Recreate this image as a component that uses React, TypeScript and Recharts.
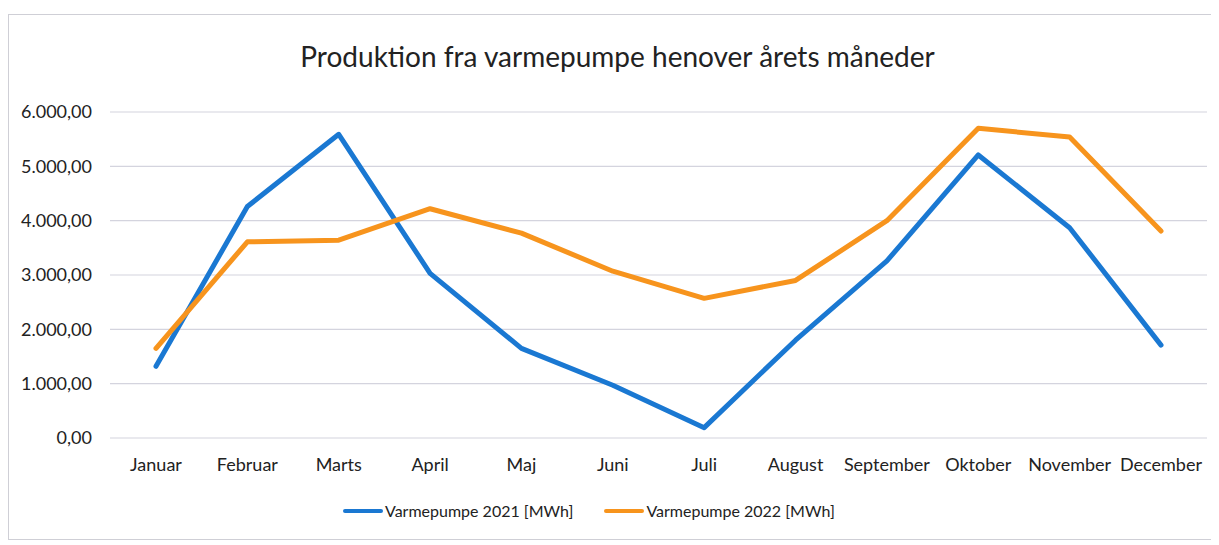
import React from "react";
import { LineChart, Line, XAxis, YAxis, CartesianGrid, Legend } from "recharts";

const months = [
  "Januar",
  "Februar",
  "Marts",
  "April",
  "Maj",
  "Juni",
  "Juli",
  "August",
  "September",
  "Oktober",
  "November",
  "December",
];
const pump2021 = [1320, 4260, 5590, 3030, 1650, 970, 190, 1800, 3260, 5210, 3870, 1710];
const pump2022 = [1650, 3610, 3640, 4220, 3770, 3070, 2570, 2900, 4000, 5700, 5540, 3810];
const yTicks = [0, 1000, 2000, 3000, 4000, 5000, 6000];

const data = months.map((m, i) => ({
  name: m,
  v2021: pump2021[i],
  v2022: pump2022[i],
}));

const FONT = "Lato, 'Open Sans', sans-serif";
const BLUE = "#1a78d2";
const ORANGE = "#f7941d";

const fmt = (v: number) =>
  v.toLocaleString("da-DK", { minimumFractionDigits: 2, maximumFractionDigits: 2 });

const legendItems = [
  { label: "Varmepumpe 2021 [MWh]", color: BLUE },
  { label: "Varmepumpe 2022 [MWh]", color: ORANGE },
];

// legend sits left of centre in the original, so it is placed by hand
const LegendContent = () => (
  <div style={{ display: "flex", paddingLeft: 334, gap: 31, fontFamily: FONT, fontSize: 16, color: "#222" }}>
    {legendItems.map((it) => (
      <div key={it.label} style={{ display: "flex", alignItems: "center" }}>
        <span style={{ display: "inline-block", width: 40, height: 4, borderRadius: 2, background: it.color, marginRight: 2 }} />
        <span>{it.label}</span>
      </div>
    ))}
  </div>
);

export default function App() {
  return (
    <div
      style={{
        position: "relative",
        marginTop: 6,
        width: 1203,
        height: 524,
        border: "1px solid #cfcfd6",
        background: "#fff",
      }}
    >
      <div
        style={{
          position: "absolute",
          top: 24,
          left: 0,
          width: "100%",
          textAlign: "center",
          fontFamily: FONT,
          fontSize: 28,
          color: "#222",
          marginLeft: 7,
        }}
      >
        Produktion fra varmepumpe henover årets måneder
      </div>
      <LineChart
        width={1203}
        height={524}
        data={data}
        margin={{ top: 97, right: 5, left: 11, bottom: 16 }}
      >
        <CartesianGrid horizontal={true} vertical={false} stroke="#d4d4de" strokeWidth={1.2} />
        <XAxis
          dataKey="name"
          axisLine={false}
          tickLine={false}
          tickSize={0}
          tickMargin={20}
          height={66}
          interval={0}
          padding={{ left: 46, right: 46 }}
          tick={{ fontFamily: FONT, fontSize: 18, fill: "#222" }}
        />
        <YAxis
          domain={[0, 6000]}
          ticks={yTicks}
          axisLine={false}
          tickLine={false}
          tickSize={0}
          tickMargin={18}
          width={90}
          tickFormatter={fmt}
          tick={{ fontFamily: FONT, fontSize: 18, fill: "#222" }}
        />
        <Legend
          verticalAlign="bottom"
          content={<LegendContent />}
          wrapperStyle={{ bottom: 19, left: 0, width: 1203 }}
        />
        <Line
          type="linear"
          dataKey="v2021"
          name="Varmepumpe 2021 [MWh]"
          stroke={BLUE}
          strokeWidth={5}
          strokeLinejoin="round"
          strokeLinecap="round"
          dot={false}
          activeDot={false}
          isAnimationActive={false}
        />
        <Line
          type="linear"
          dataKey="v2022"
          name="Varmepumpe 2022 [MWh]"
          stroke={ORANGE}
          strokeWidth={5}
          strokeLinejoin="round"
          strokeLinecap="round"
          dot={false}
          activeDot={false}
          isAnimationActive={false}
        />
      </LineChart>
    </div>
  );
}
